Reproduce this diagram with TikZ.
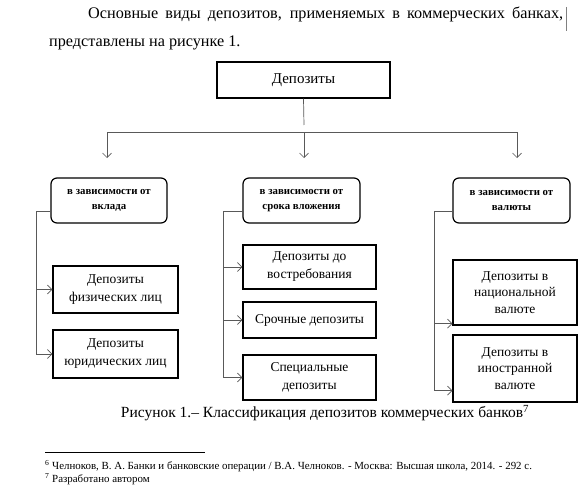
\documentclass[tikz,border=0pt]{standalone}
\usepackage{fontspec}
\setmainfont{Liberation Serif}
\usetikzlibrary{arrows.meta}

\begin{document}
\begin{tikzpicture}[x=1pt,y=-1pt,
  conn/.style={draw=black!65,line width=0.7pt},
  arr/.style={-{Straight Barb[length=4.5pt,width=9pt]}},
  topbox/.style={draw,line width=1.2pt,minimum width=173pt,minimum height=36pt,font=\fontsize{15}{17}\selectfont},
  catbox/.style={draw,line width=1.2pt,rounded corners=6pt,minimum width=117pt,minimum height=45pt,align=center,font=\fontsize{10.8}{14.5}\selectfont\bfseries},
  leafbox/.style={draw,line width=1.2pt,align=center,font=\fontsize{13.5}{18}\selectfont}]
\useasboundingbox (0,0) rectangle (587,487);
\fill[white] (0,0) rectangle (587,487);

% text above the figure
\node[anchor=north west,inner sep=0pt,text width=514pt,align=justify,font=\fontsize{16.2}{28}\selectfont] (intro) at (49,7)
  {\hspace*{39pt}Основные виды депозитов, применяемых в коммерческих банках,\linebreak представлены на рисунке 1.};
\draw[black!50,line width=0.6pt] (566,7) -- (566,31);

% boxes
\node[topbox] (dep) at (303.5,80) {Депозиты};
\node[catbox,minimum width=116pt] (vklad) at (109,200.5) {в зависимости от\\вклада};
\node[catbox] (srok) at (301.5,200.5) {в зависимости от\\срока вложения};
\node[catbox] (valuta) at (511.5,200.5) {в зависимости от\\валюты};

\node[leafbox,minimum width=125pt,minimum height=47pt] (fiz) at (115.5,289.5) {Депозиты\\физических лиц};
\node[leafbox,minimum width=125pt,minimum height=48pt] (yur) at (115.5,354) {Депозиты\\юридических лиц};
\node[leafbox,minimum width=133pt,minimum height=44pt] (vostr) at (309.5,267) {Депозиты до\\востребования};
\node[leafbox,minimum width=133pt,minimum height=36pt] (srochn) at (309.5,320) {Срочные депозиты};
\node[leafbox,minimum width=133pt,minimum height=45pt] (spec) at (309.5,377.5) {Специальные\\депозиты};
\node[leafbox,minimum width=124pt,minimum height=65pt,font=\fontsize{13.5}{16.5}\selectfont] (nac) at (515,292.5) {Депозиты в\\национальной\\валюте};
\node[leafbox,minimum width=124pt,minimum height=67pt,font=\fontsize{13.5}{16.5}\selectfont] (inostr) at (515,368.5) {Депозиты в\\иностранной\\валюте};

% top level connectors
\coordinate (stem) at (304,125);
\coordinate (busL) at (107,132);
\coordinate (busR) at (517,132);
\draw[conn] (dep.south) -- (stem);
\draw[conn] (busL) -- (busR);
\foreach \c/\x in {vklad/107,srok/304,valuta/517}{
  \coordinate (\c-in) at (\x,158);
  \draw[conn,arr] (\c-in |- busL) -- (\c-in);
}

% branches
\draw[conn,arr] ([yshift=-10.5pt]vklad.west) -| ([xshift=-16pt]yur.west) -- (yur.west);
\draw[conn,arr] ([xshift=-16pt]fiz.west) -- (fiz.west);
\draw[conn,arr] ([yshift=-10.5pt]srok.west) -| ([xshift=-19pt]spec.west) -- (spec.west);
\foreach \n in {vostr,srochn}
  \draw[conn,arr] ([xshift=-19pt]\n.west) -- (\n.west);
\draw[conn,arr] ([yshift=-10.5pt]valuta.west) -| ([xshift=-18pt,yshift=12pt]inostr.south west) -- ([yshift=12pt]inostr.south west);
\draw[conn,arr] ([xshift=-18pt,yshift=2pt]nac.south west) -- ([yshift=2pt]nac.south west);

% caption and footnotes
\node[font=\fontsize{15.5}{18}\selectfont] (cap) at (325,413) {Рисунок 1.– Классификация депозитов коммерческих банков\textsuperscript{7}};
\draw[line width=0.5pt] (45,452) -- (205,452);
\node[anchor=west,inner sep=0pt,font=\fontsize{10.9}{12}\selectfont] (fn6) at (45,466)
  {\textsuperscript{6} Челноков, В. А. Банки и банковские операции / В.А. Челноков. - Москва: Высшая школа, 2014. - 292 с.};
\node[anchor=west,inner sep=0pt,font=\fontsize{10.9}{12}\selectfont] (fn7) at (45,479) {\textsuperscript{7} Разработано автором};
\end{tikzpicture}
\end{document}
